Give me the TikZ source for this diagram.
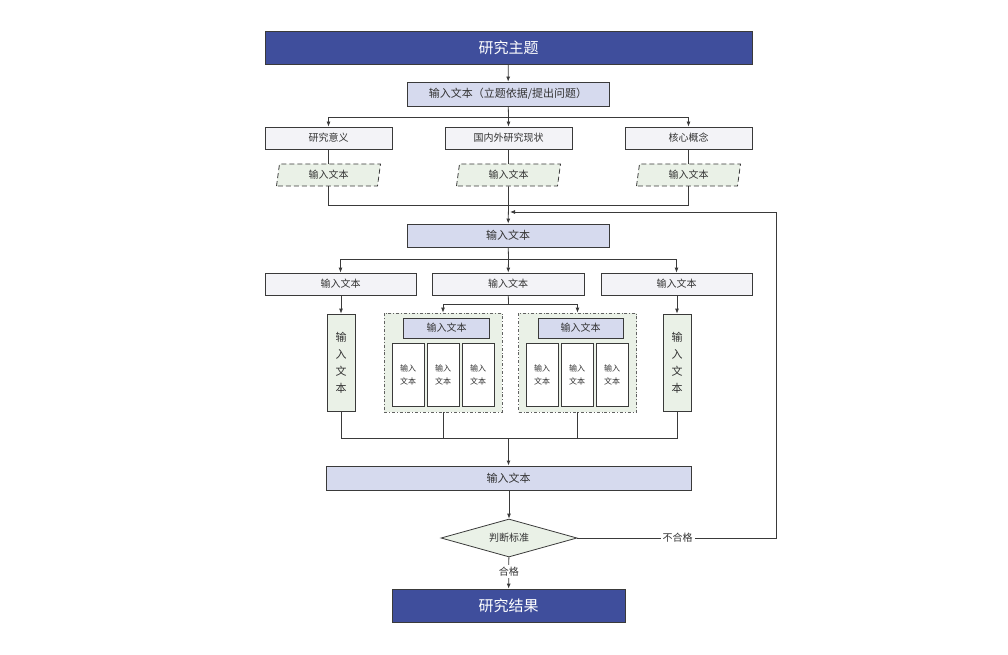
\documentclass[tikz,border=0pt]{standalone}
\usepackage{fontspec}
\newfontfamily\cjk{Noto Sans CJK SC}
\usetikzlibrary{shapes.geometric,arrows.meta}
\definecolor{dkblue}{HTML}{3F4E9C}
\definecolor{lav}{HTML}{D6DAEE}
\definecolor{lgrey}{HTML}{F3F3F7}
\definecolor{lgreen}{HTML}{EAF1E7}
\definecolor{linec}{HTML}{3A3A3A}
\definecolor{txtc}{HTML}{333333}
\tikzset{
  base/.style={draw=linec, line width=0.8pt, inner sep=0pt, text=txtc, font=\cjk\fontsize{10}{12}\selectfont, align=center},
  darkbox/.style={base, fill=dkblue, text=white, font=\cjk\fontsize{15}{17}\selectfont},
  lavbox/.style={base, fill=lav, font=\cjk\fontsize{11}{13}\selectfont},
  greybox/.style={base, fill=lgrey},
  parabox/.style={base, fill=lgreen, dash pattern=on 5pt off 3pt, trapezium, trapezium left angle=72, trapezium right angle=108, trapezium stretches body, minimum width=104pt, minimum height=22pt},
  vbox/.style={base, fill=lgreen, minimum width=28pt, minimum height=97pt, font=\cjk\fontsize{11}{17}\selectfont},
  grp/.style={base, fill=lgreen, dash dot, draw=linec!80, minimum width=118pt, minimum height=99pt},
  smallbox/.style={base, fill=white, minimum width=32pt, minimum height=63pt, font=\cjk\fontsize{8}{13}\selectfont},
  conn/.style={draw=linec, line width=0.8pt},
  arr/.style={conn, -{Latex[length=5pt,width=4pt]}},
  lbl/.style={fill=white, inner sep=2pt, text=txtc, font=\cjk\fontsize{10}{12}\selectfont},
}
\begin{document}
\begin{tikzpicture}[x=1pt,y=-1pt]
\useasboundingbox (0,0) rectangle (1008,655);
% nodes
\node[darkbox, minimum width=487pt, minimum height=33pt] (top) at (508.5,47.5) {研究主题};
\node[lavbox, minimum width=202pt, minimum height=24pt] (b2) at (508,94) {输入文本（立题依据/提出问题）};
\node[greybox, minimum width=127pt, minimum height=22pt] (r1a) at (328.5,138) {研究意义};
\node[greybox, minimum width=127pt, minimum height=22pt] (r1b) at (508.5,138) {国内外研究现状};
\node[greybox, minimum width=127pt, minimum height=22pt] (r1c) at (688.5,138) {核心概念};
\node[parabox] (p1) at (328.5,175) {输入文本};
\node[parabox] (p2) at (508.5,175) {输入文本};
\node[parabox] (p3) at (688.5,175) {输入文本};
\node[lavbox, minimum width=202pt, minimum height=23pt] (b3) at (508,235.5) {输入文本};
\node[greybox, minimum width=151pt, minimum height=22pt] (r2a) at (340.5,284) {输入文本};
\node[greybox, minimum width=152pt, minimum height=22pt] (r2b) at (508,284) {输入文本};
\node[greybox, minimum width=151pt, minimum height=22pt] (r2c) at (676.5,284) {输入文本};
\node[vbox] (v1) at (341,362.5) {输\\入\\文\\本};
\node[vbox] (v2) at (677,362.5) {输\\入\\文\\本};
\node[grp] (g1) at (443,362.5) {};
\node[grp] (g2) at (577.5,362.5) {};
\node[lavbox, minimum width=86pt, minimum height=20pt, font=\cjk\fontsize{10}{12}\selectfont] (t1) at (446.5,328) {输入文本};
\node[lavbox, minimum width=85pt, minimum height=20pt, font=\cjk\fontsize{10}{12}\selectfont] (t2) at (580.5,328) {输入文本};
\node[smallbox] (s11) at (408,374.5) {输入\\文本};
\node[smallbox] (s12) at (443,374.5) {输入\\文本};
\node[smallbox] (s13) at (478,374.5) {输入\\文本};
\node[smallbox] (s21) at (542,374.5) {输入\\文本};
\node[smallbox] (s22) at (577,374.5) {输入\\文本};
\node[smallbox] (s23) at (612,374.5) {输入\\文本};
\node[lavbox, minimum width=365pt, minimum height=24pt] (b4) at (508.5,478) {输入文本};
\node[base, diamond, fill=lgreen, minimum width=136pt, minimum height=38pt, aspect=3.6] (d) at (509,538) {判断标准};
\node[darkbox, minimum width=233pt, minimum height=33pt] (res) at (508.5,605.5) {研究结果};
% junctions
\coordinate (j1) at (508.5,117);
\coordinate (j2) at (508.5,205);
\coordinate (fb) at (510,212);
\coordinate (j3) at (508.5,259);
\coordinate (j4) at (508.5,304);
\coordinate (j5) at (508.5,438);
\coordinate (c1) at (776,538);
\coordinate (c2) at (776,212);
% connectors
\draw[arr] (top) -- (b2);
\draw[conn] (b2) -- (j1);
\draw[arr] (j1) -| (r1a);
\draw[arr] (j1) -- (r1b);
\draw[arr] (j1) -| (r1c);
\draw[conn] (r1a) -- (p1);
\draw[conn] (r1b) -- (p2);
\draw[conn] (r1c) -- (p3);
\draw[conn] (p1.south) |- (j2);
\draw[conn] (p3.south) |- (j2);
\draw[conn] (p2.south) -- (j2);
\draw[arr] (j2) -- (b3);
\draw[conn] (b3) -- (j3);
\draw[arr] (j3) -| (r2a);
\draw[arr] (j3) -- (r2b);
\draw[arr] (j3) -| (r2c);
\draw[arr] (r2a.south -| v1) -- (v1);
\draw[arr] (r2c.south -| v2) -- (v2);
\draw[conn] (r2b) -- (j4);
\draw[arr] (j4) -| (g1.north);
\draw[arr] (j4) -| (g2.north);
\draw[conn] (v1.south) |- (j5);
\draw[conn] (v2.south) |- (j5);
\draw[conn] (g1.south) |- (j5);
\draw[conn] (g2.south) |- (j5);
\draw[arr, line width=1.4pt] (j5) -- (b4);
\draw[arr] (b4.south -| d) -- (d);
\draw[arr] (d) -- node[lbl, pos=0.45] {合格} (res);
\draw[arr] (d.east) -- node[lbl, pos=0.505] {不合格} (c1) -- (c2) -- (fb);
\end{tikzpicture}
\end{document}
